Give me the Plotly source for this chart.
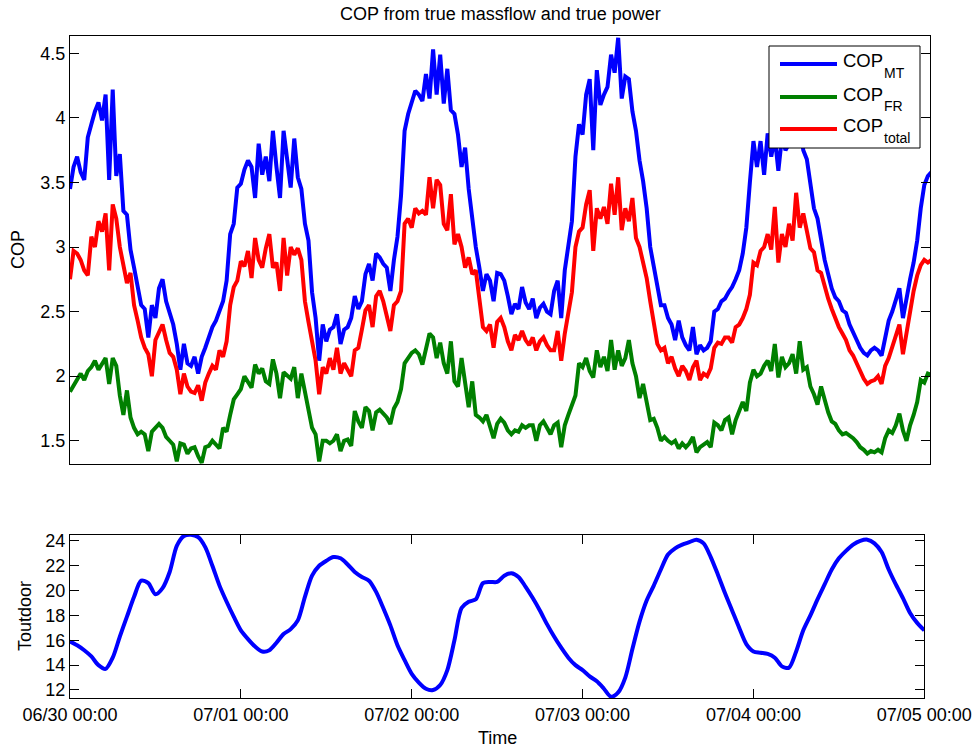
import pandas as pd
import plotly.graph_objects as go

# ---------------------------------------------------------------------------
# Data: COP series sampled every 30 minutes, outdoor temperature every hour
# ---------------------------------------------------------------------------
start = pd.Timestamp("2013-06-30 00:00")

cop_mt = [
    3.45, 3.62, 3.70, 3.58, 3.52, 3.85, 3.95, 4.05, 4.12, 3.98, 4.18, 3.52, 4.22, 3.55, 3.72, 3.28,
    3.25, 2.98, 2.84, 2.68, 2.55, 2.52, 2.30, 2.55, 2.45, 2.68, 2.75, 2.58, 2.48, 2.40, 2.25, 2.05,
    2.25, 2.10, 2.08, 2.15, 2.02, 2.15, 2.22, 2.30, 2.38,
    2.43, 2.50, 2.58, 2.74, 3.10, 3.18, 3.46, 3.49, 3.60, 3.67, 3.62, 3.38, 3.80, 3.56, 3.70, 3.51,
    3.90, 3.62, 3.38, 3.90, 3.68, 3.46, 3.84, 3.54, 3.45, 3.18, 3.05, 2.65, 2.45, 2.12, 2.40, 2.27,
    2.36, 2.38, 2.48, 2.25, 2.36, 2.38, 2.45, 2.62,
    2.52, 2.58, 2.79, 2.87, 2.74, 2.95, 2.92, 2.87, 2.84, 2.66, 2.90, 3.08, 3.40, 3.90, 4.03, 4.13,
    4.21, 4.18, 4.13, 4.34, 4.15, 4.53, 4.18, 4.49, 4.11, 4.38, 4.06, 4.03, 3.87, 3.62, 3.77, 3.45,
    3.22, 3.00, 2.84, 2.66, 2.79, 2.74, 2.58, 2.80,
    2.79, 2.74, 2.62, 2.48, 2.56, 2.52, 2.69, 2.57, 2.52, 2.60, 2.45, 2.53, 2.56, 2.50, 2.48, 2.66,
    2.74, 2.45, 2.82, 3.00, 3.20, 3.70, 3.95, 3.87, 4.18, 4.30, 3.75, 4.37, 4.10, 4.18, 4.24, 4.49,
    4.35, 4.62, 4.15, 4.32, 4.30, 4.05, 3.90, 3.67, 3.51,
    3.30, 3.00, 2.85, 2.70, 2.55, 2.55, 2.45, 2.40, 2.28, 2.43, 2.30, 2.24, 2.20, 2.38, 2.17, 2.24,
    2.20, 2.22, 2.27, 2.50, 2.52, 2.58, 2.60, 2.65, 2.69, 2.75, 2.82, 2.95, 3.15, 3.50, 3.82, 3.62,
    3.82, 3.56, 3.88, 3.70, 3.85, 3.59, 3.85, 3.75,
    3.80, 3.90, 3.85, 3.95, 3.75, 3.68, 3.50, 3.30, 3.22, 3.05, 2.90, 2.79, 2.68, 2.61, 2.58, 2.51,
    2.49, 2.40, 2.33, 2.28, 2.22, 2.18, 2.16, 2.20, 2.22, 2.20, 2.16, 2.30, 2.43, 2.50, 2.58, 2.68,
    2.45, 2.62, 2.75, 2.88, 3.05, 3.30, 3.48, 3.55, 3.58,
]

cop_fr = [
    1.88, 1.93, 1.97, 2.02, 1.97, 2.04, 2.07, 2.12, 2.05, 2.10, 2.14, 1.94, 2.14, 2.08, 1.85, 1.70,
    1.89, 1.68, 1.60, 1.55, 1.57, 1.55, 1.42, 1.57, 1.60, 1.63, 1.60, 1.53, 1.50, 1.47, 1.34, 1.48,
    1.47, 1.40, 1.44, 1.45, 1.38, 1.33, 1.45, 1.46, 1.50,
    1.47, 1.44, 1.60, 1.57, 1.70, 1.82, 1.86, 1.90, 2.00, 1.96, 1.91, 2.09, 2.02, 2.06, 1.96, 1.94,
    2.13, 2.02, 1.83, 2.03, 2.00, 1.98, 2.07, 1.83, 2.02, 1.88, 1.70, 1.60, 1.55, 1.34, 1.50, 1.50,
    1.48, 1.50, 1.55, 1.42, 1.50, 1.51, 1.46, 1.73,
    1.65, 1.60, 1.76, 1.73, 1.58, 1.72, 1.74, 1.71, 1.68, 1.63, 1.75, 1.80, 1.90, 2.10, 2.14, 2.18,
    2.20, 2.17, 2.09, 2.22, 2.33, 2.30, 2.14, 2.26, 2.10, 2.02, 2.27, 1.96, 1.92, 2.14, 1.92, 1.76,
    1.96, 1.70, 1.68, 1.65, 1.70, 1.62, 1.52, 1.63,
    1.67, 1.64, 1.58, 1.55, 1.58, 1.57, 1.62, 1.60, 1.62, 1.62, 1.50, 1.62, 1.65, 1.60, 1.55, 1.62,
    1.64, 1.45, 1.62, 1.70, 1.78, 1.85, 2.10, 2.07, 2.14, 2.04, 1.99, 2.20, 2.07, 2.15, 2.04, 2.28,
    2.05, 2.20, 2.08, 2.14, 2.28, 2.10, 2.00, 1.83, 1.94,
    1.80, 1.66, 1.67, 1.60, 1.50, 1.53, 1.50, 1.48, 1.50, 1.44, 1.48, 1.45, 1.48, 1.53, 1.41, 1.45,
    1.47, 1.49, 1.45, 1.64, 1.62, 1.58, 1.66, 1.68, 1.55, 1.66, 1.73, 1.80, 1.73, 1.95, 2.05, 2.00,
    2.02, 2.08, 2.12, 2.04, 2.25, 1.99, 2.15, 2.07,
    2.10, 2.17, 2.02, 2.27, 2.05, 2.07, 1.92, 1.86, 1.78, 1.92, 1.82, 1.72, 1.65, 1.63, 1.58, 1.55,
    1.56, 1.54, 1.52, 1.49, 1.45, 1.43, 1.40, 1.42, 1.41, 1.43, 1.41, 1.52, 1.58, 1.56, 1.62, 1.71,
    1.58, 1.50, 1.62, 1.70, 1.80, 1.97, 1.95, 2.02, 2.01,
]

cop_total = [
    2.75, 2.97, 2.95, 2.90, 2.82, 2.78, 3.08, 3.00, 3.20, 3.12, 3.26, 2.82, 3.33, 3.22, 3.00, 2.85,
    2.72, 2.80, 2.55, 2.43, 2.30, 2.22, 2.17, 2.00, 2.28, 2.34, 2.40, 2.28, 2.18, 2.15, 2.05, 1.86,
    2.02, 1.92, 1.88, 1.87, 1.93, 1.81, 1.95, 2.02, 2.08,
    2.05, 2.20, 2.15, 2.27, 2.55, 2.69, 2.74, 2.89, 2.85, 2.97, 2.76, 3.07, 2.90, 2.84, 2.99, 3.10,
    2.84, 2.88, 2.66, 3.07, 2.78, 3.00, 2.94, 2.99, 2.90, 2.58, 2.42, 2.28, 2.12, 1.86, 2.07, 2.02,
    2.14, 2.05, 2.22, 2.02, 2.10, 2.05, 2.00, 2.20,
    2.22, 2.36, 2.51, 2.55, 2.38, 2.62, 2.66, 2.58, 2.45, 2.35, 2.55, 2.58, 2.66, 3.18, 3.22, 3.15,
    3.30, 3.26, 3.28, 3.25, 3.54, 3.30, 3.52, 3.48, 3.18, 3.13, 3.41, 3.02, 3.10, 3.00, 2.84, 2.92,
    2.79, 2.82, 2.60, 2.38, 2.35, 2.40, 2.22, 2.42,
    2.45, 2.38, 2.27, 2.20, 2.32, 2.28, 2.35, 2.28, 2.24, 2.30, 2.20, 2.27, 2.30, 2.24, 2.20, 2.20,
    2.35, 2.12, 2.33, 2.50, 2.65, 3.00, 3.12, 3.15, 3.33, 3.44, 2.97, 3.30, 3.22, 3.31, 3.18, 3.49,
    3.25, 3.54, 3.13, 3.30, 3.20, 3.38, 3.07, 3.00, 2.89,
    2.76, 2.58, 2.40, 2.25, 2.20, 2.22, 2.10, 2.15, 2.06, 2.00, 2.08, 2.04, 1.97, 2.07, 2.12, 1.97,
    2.02, 2.00, 2.06, 2.22, 2.26, 2.25, 2.30, 2.30, 2.26, 2.38, 2.40, 2.45, 2.52, 2.63, 2.88, 2.86,
    2.97, 3.00, 3.10, 2.98, 3.31, 2.88, 3.10, 3.00,
    3.18, 3.05, 3.42, 3.15, 3.26, 3.12, 2.99, 2.96, 2.82, 2.80, 2.69, 2.60, 2.52, 2.44, 2.38, 2.33,
    2.28, 2.20, 2.16, 2.10, 2.03, 1.98, 1.94, 1.96, 1.97, 2.00, 1.94, 2.08, 2.14, 2.22, 2.30, 2.40,
    2.17, 2.35, 2.52, 2.66, 2.78, 2.86, 2.90, 2.88, 2.90,
]

t_outdoor = [
    15.9, 15.6, 15.2, 14.7, 14.0, 13.7, 14.6, 16.3, 17.9, 19.5, 20.8, 20.6, 19.7, 20.2, 21.5, 23.6,
    24.4, 24.5, 24.3, 23.5, 22.0, 20.4, 19.1, 17.9, 16.8, 16.1, 15.5, 15.1, 15.2, 15.8, 16.5, 16.9,
    17.6, 19.5, 21.2, 22.0, 22.4, 22.7, 22.6, 22.1, 21.5, 21.1, 20.8, 19.9, 18.6, 17.2, 15.6, 14.4,
    13.3, 12.6, 12.1, 12.0, 12.4, 13.6, 16.0, 18.6, 19.1, 19.3, 20.6, 20.7, 20.7, 21.2, 21.4, 21.1,
    20.3, 19.4, 18.4, 17.3, 16.3, 15.4, 14.6, 14.0, 13.6, 13.1, 12.7, 12.1, 11.45, 11.8, 13.0, 15.3,
    17.5, 19.2, 20.4, 21.7, 22.9, 23.4, 23.7, 23.9, 24.1, 23.8, 22.7, 21.3, 19.8, 18.4, 17.0, 15.7,
    15.1, 15.0, 14.9, 14.6, 13.9, 13.8, 15.1, 16.8, 18.0, 19.3, 20.5, 21.7, 22.6, 23.2, 23.7, 24.0,
    24.1, 23.8, 23.1, 21.7, 20.5, 19.4, 18.2, 17.4, 16.8,
]

cop_time = pd.date_range(start, periods=len(cop_mt), freq="30min")
temp_time = pd.date_range(start, periods=len(t_outdoor), freq="1h")
day_ticks = pd.date_range(start, periods=6, freq="1D")

# subscript, values, colour
series = [
    ("MT", cop_mt, "#0000FF"),
    ("FR", cop_fr, "#008000"),
    ("total", cop_total, "#FF0000"),
]

# ---------------------------------------------------------------------------
# Figure geometry (pixels of the 978 x 748 page)
# ---------------------------------------------------------------------------
W, H = 978, 748
FONT = "Liberation Sans, Arial, Helvetica, sans-serif"


def px(x):
    return x / W


def py(y):
    return 1 - y / H


fig = go.Figure()

for sub, vals, color in series:
    fig.add_trace(go.Scatter(
        x=cop_time, y=vals, mode="lines", name="COP<sub>%s</sub>" % sub,
        line=dict(color=color, width=4), xaxis="x", yaxis="y", showlegend=False,
    ))

fig.add_trace(go.Scatter(
    x=temp_time, y=t_outdoor, mode="lines", name="Toutdoor",
    line=dict(color="#0000FF", width=4, shape="spline", smoothing=0.8),
    xaxis="x2", yaxis="y2", showlegend=False,
))

axis_common = dict(
    showline=True, linecolor="black", linewidth=1, showgrid=False, zeroline=False,
    tickfont=dict(family=FONT, size=18, color="black"),
    ticks="inside", ticklen=9, tickcolor="black", tickwidth=1,
    automargin=False,
)

fig.update_layout(
    width=W, height=H,
    margin=dict(l=0, r=0, t=0, b=0, pad=0, autoexpand=False),
    paper_bgcolor="white", plot_bgcolor="white",
    font=dict(family=FONT, size=18, color="black"),
    xaxis=dict(
        axis_common, domain=[px(70), px(930)], anchor="y", type="date",
        range=[start, start + pd.Timedelta(hours=120.8)],
        ticks="", showticklabels=False, mirror=True,
    ),
    yaxis=dict(
        axis_common, domain=[py(464), py(36)], anchor="x",
        range=[1.32, 4.634], tickvals=[1.5, 2, 2.5, 3, 3.5, 4, 4.5],
        mirror="ticks",
    ),
    xaxis2=dict(
        axis_common, domain=[px(70), px(924.3)], anchor="y2", type="date",
        range=[start, start + pd.Timedelta(hours=120)],
        tickvals=day_ticks, tickformat="%m/%d %H:%M", mirror="ticks",
    ),
    yaxis2=dict(
        axis_common, domain=[py(698.3), py(534.7)], anchor="x2",
        range=[11.33, 24.5], tickvals=[12, 14, 16, 18, 20, 22, 24],
        mirror="ticks",
    ),
)

# Title and axis titles
annotations = [
    dict(text="COP from true massflow and true power", x=px(500), y=py(14),
         xanchor="center", yanchor="middle", font=dict(size=18)),
    dict(text="COP", x=px(18), y=py(250), textangle=-90,
         xanchor="center", yanchor="middle", font=dict(size=18)),
    dict(text="Toutdoor", x=px(25), y=py(616), textangle=-90,
         xanchor="center", yanchor="middle", font=dict(size=18)),
    dict(text="Time", x=px(497), y=py(738),
         xanchor="center", yanchor="middle", font=dict(size=18)),
]

# Legend box: line sample, "COP" and a lowered subscript for each series
shapes = [
    dict(type="rect", xref="paper", yref="paper",
         x0=px(769), x1=px(920), y0=py(148), y1=py(46),
         line=dict(color="black", width=1), fillcolor="white", layer="above"),
]
line_y = [64, 97, 129]
cop_y = [61, 94, 125.5]
sub_y = [72.5, 106, 137.5]
for (sub, _, color), ly, cy, sy in zip(series, line_y, cop_y, sub_y):
    shapes.append(dict(type="line", xref="paper", yref="paper",
                       x0=px(780), x1=px(837), y0=py(ly), y1=py(ly),
                       line=dict(color=color, width=4), layer="above"))
    annotations.append(dict(text="COP", x=px(841), y=py(cy),
                            xanchor="left", yanchor="middle",
                            font=dict(size=18.5)))
    annotations.append(dict(text=sub, x=px(881.5), y=py(sy),
                            xanchor="left", yanchor="middle",
                            font=dict(size=14)))

for a in annotations:
    a.update(xref="paper", yref="paper", showarrow=False)

fig.update_layout(annotations=annotations, shapes=shapes)

fig.write_html("out.html")
